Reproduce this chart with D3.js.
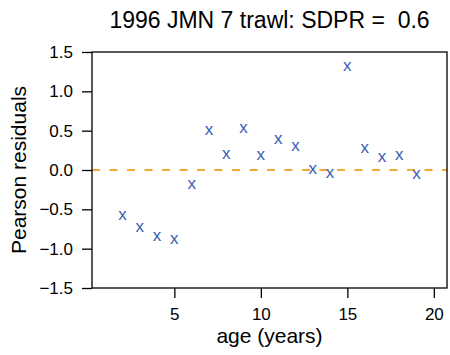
<!DOCTYPE html>
<html>
<head>
<meta charset="utf-8">
<script src="https://cdn.jsdelivr.net/npm/d3@7"></script>
<style>
  body { margin: 0; background: #fff; }
  text { font-family: "Liberation Sans", Arial, Helvetica, sans-serif; white-space: pre; }
</style>
</head>
<body>
<svg id="chart"></svg>
<script>
// residuals by age
var ages = [2, 3, 4, 5, 6, 7, 8, 9, 10, 11, 12, 13, 14, 15, 16, 17, 18, 19];
var residuals = [-0.58, -0.73, -0.85, -0.88, -0.19, 0.50, 0.19, 0.53, 0.18, 0.39, 0.30, 0.00, -0.04, 1.32, 0.27, 0.16, 0.18, -0.055];
var xTicks = [5, 10, 15, 20];
var yTicks = [-1.5, -1.0, -0.5, 0.0, 0.5, 1.0, 1.5];
var title = "1996 JMN 7 trawl: SDPR =  0.6";

const width = 450;
const height = 355;
const margin = {top: 52, right: 3, bottom: 67, left: 92};

var svg = d3.select('#chart')
  .attr('width', width)
  .attr('height', height);

// R style: xlim 1..20 padded by 4%
var xr = [1, 20];
var pad = (xr[1] - xr[0]) * 0.04;
var x = d3.scaleLinear()
  .domain([xr[0] - pad, xr[1] + pad])
  .range([margin.left, width - margin.right]);

var y = d3.scaleLinear()
  .domain([-1.5, 1.5])
  .range([height - margin.bottom, margin.top]);

// zero line
svg.append('line')
  .attr('x1', x.range()[0])
  .attr('x2', x.range()[1])
  .attr('y1', y(0))
  .attr('y2', y(0))
  .attr('stroke', '#f5a83a')
  .attr('stroke-width', 2)
  .attr('stroke-dasharray', '8,9.5');

// points drawn as "x" characters
svg.selectAll('.pt')
  .data(ages.map((a, i) => ({age: a, r: residuals[i]})))
  .enter().append('text')
    .attr('class', 'pt')
    .attr('x', d => x(d.age))
    .attr('y', d => y(d.r))
    .attr('dy', '0.26em')
    .attr('text-anchor', 'middle')
    .attr('font-size', 17)
    .attr('fill', '#3b5db5')
    .text('x');

// axes
var xAxis = d3.axisBottom(x).tickValues(xTicks).tickSize(10).tickPadding(10)
  .tickFormat(d3.format('d'));
var yAxis = d3.axisLeft(y).tickValues(yTicks).tickSize(10).tickPadding(9)
  .tickFormat(d => d3.format('.1f')(d).replace('-', '\u2212'));

var gx = svg.append('g')
  .attr('transform', `translate(0,${height - margin.bottom})`)
  .call(xAxis);
gx.select('.domain').remove();

var gy = svg.append('g')
  .attr('transform', `translate(${margin.left},0)`)
  .call(yAxis);
gy.select('.domain').remove();

svg.selectAll('.tick line').attr('stroke', '#000').attr('stroke-width', 1.3);
svg.selectAll('.tick text').attr('font-size', 17).attr('fill', '#000')
  .style('font-family', '"Liberation Sans", Arial, sans-serif');

// box
svg.append('rect')
  .attr('x', x.range()[0])
  .attr('y', y.range()[1])
  .attr('width', x.range()[1] - x.range()[0])
  .attr('height', y.range()[0] - y.range()[1])
  .attr('fill', 'none')
  .attr('stroke', '#000')
  .attr('stroke-width', 1.3);

// labels
svg.append('text')
  .attr('x', (x.range()[0] + x.range()[1]) / 2)
  .attr('y', 27.5)
  .attr('text-anchor', 'middle')
  .attr('font-size', 23)
  .text(title);

svg.append('text')
  .attr('x', (x.range()[0] + x.range()[1]) / 2)
  .attr('y', 343)
  .attr('text-anchor', 'middle')
  .attr('font-size', 21)
  .text('age (years)');

svg.append('text')
  .attr('transform', `translate(26,${(y.range()[0] + y.range()[1]) / 2}) rotate(-90)`)
  .attr('text-anchor', 'middle')
  .attr('font-size', 21)
  .text('Pearson residuals');
</script>
</body>
</html>
